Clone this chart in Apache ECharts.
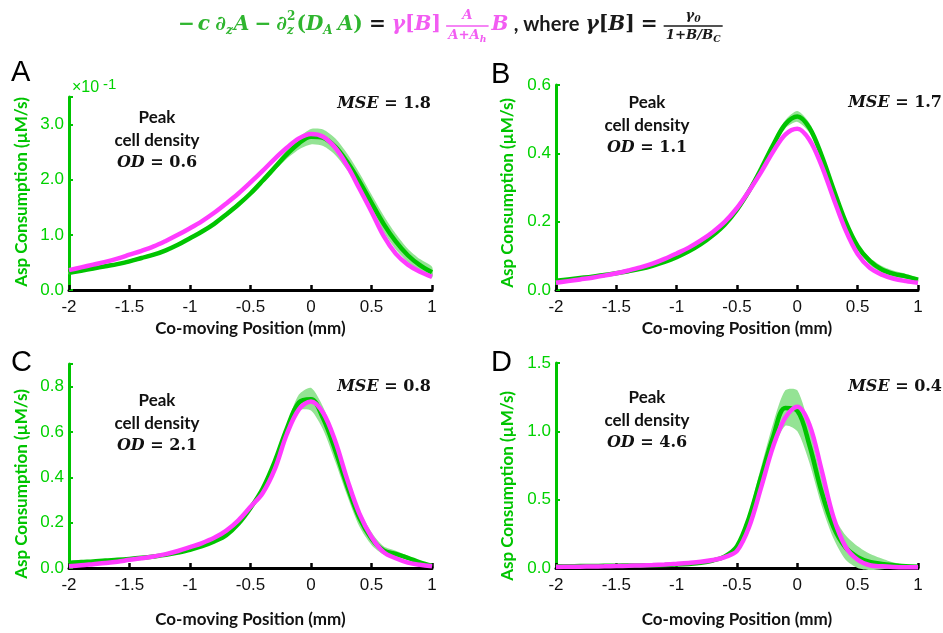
<!DOCTYPE html>
<html><head><meta charset="utf-8">
<script src="https://cdn.jsdelivr.net/npm/echarts/dist/echarts.min.js"></script>
<style>html,body{margin:0;padding:0;background:#fff}#c{width:943px;height:633px}</style>
</head><body><div id="c"></div>
<script>
// ---- data (x in mm, y in µM/s) ----
const positions = [-2.0,-1.9,-1.8,-1.7,-1.6,-1.5,-1.4,-1.3,-1.2,-1.1,-1.0,-0.9,-0.8,-0.7,-0.6,-0.5,-0.4,-0.3,-0.2,-0.1,0.0,0.1,0.2,0.3,0.4,0.5,0.6,0.7,0.8,0.9,1.0];

const dataA = [0.031,0.035,0.039,0.043,0.047,0.052,0.058,0.064,0.072,0.082,0.094,0.106,0.120,0.137,0.155,0.175,0.198,0.222,0.246,0.266,0.278,0.276,0.260,0.232,0.197,0.158,0.120,0.088,0.063,0.045,0.032];
const modelA = [0.036,0.041,0.046,0.051,0.057,0.064,0.071,0.079,0.089,0.100,0.112,0.125,0.140,0.157,0.175,0.195,0.216,0.238,0.258,0.275,0.283,0.278,0.258,0.225,0.184,0.142,0.098,0.066,0.046,0.033,0.024];
const spreadA = [0.003,0.003,0.003,0.003,0.003,0.003,0.003,0.003,0.003,0.003,0.003,0.003,0.003,0.004,0.004,0.004,0.005,0.006,0.008,0.011,0.014,0.015,0.015,0.015,0.015,0.015,0.015,0.014,0.012,0.011,0.010];

const dataB = [0.027,0.031,0.035,0.039,0.044,0.049,0.055,0.062,0.071,0.082,0.096,0.113,0.134,0.160,0.192,0.235,0.290,0.355,0.425,0.485,0.508,0.475,0.395,0.295,0.200,0.128,0.085,0.060,0.047,0.040,0.030];
const modelB = [0.021,0.026,0.031,0.036,0.042,0.049,0.057,0.066,0.077,0.091,0.107,0.124,0.145,0.170,0.200,0.240,0.290,0.345,0.405,0.455,0.472,0.440,0.365,0.268,0.175,0.105,0.065,0.045,0.033,0.026,0.021];
const spreadB = [0.002,0.002,0.002,0.002,0.002,0.002,0.002,0.002,0.002,0.002,0.002,0.003,0.003,0.003,0.003,0.004,0.005,0.006,0.008,0.012,0.016,0.014,0.010,0.008,0.008,0.009,0.010,0.010,0.009,0.007,0.005];

const dataC = [0.022,0.026,0.029,0.033,0.036,0.040,0.045,0.051,0.058,0.068,0.080,0.096,0.117,0.145,0.195,0.265,0.350,0.470,0.615,0.730,0.745,0.660,0.520,0.360,0.220,0.130,0.078,0.062,0.045,0.025,0.010];
const modelC = [0.008,0.012,0.017,0.022,0.028,0.036,0.043,0.051,0.061,0.075,0.092,0.110,0.133,0.165,0.210,0.270,0.330,0.435,0.590,0.700,0.735,0.685,0.560,0.390,0.240,0.137,0.070,0.043,0.024,0.014,0.008];
const spreadC = [0.003,0.003,0.003,0.003,0.003,0.003,0.003,0.003,0.003,0.003,0.004,0.004,0.004,0.005,0.005,0.007,0.010,0.012,0.018,0.035,0.050,0.050,0.050,0.042,0.037,0.028,0.018,0.014,0.009,0.005,0.003];

const dataD = [0.012,0.013,0.014,0.015,0.016,0.017,0.018,0.019,0.020,0.022,0.025,0.030,0.038,0.055,0.085,0.160,0.370,0.670,0.960,1.170,1.150,0.900,0.560,0.300,0.150,0.080,0.045,0.030,0.020,0.012,0.010];
const modelD = [0.008,0.009,0.010,0.011,0.012,0.014,0.016,0.019,0.022,0.026,0.031,0.037,0.045,0.058,0.080,0.125,0.300,0.590,0.890,1.100,1.180,1.050,0.720,0.370,0.155,0.060,0.020,0.012,0.008,0.006,0.005];
const spreadD = [0.003,0.003,0.003,0.003,0.003,0.003,0.003,0.003,0.003,0.003,0.003,0.004,0.004,0.005,0.005,0.020,0.040,0.070,0.100,0.130,0.150,0.130,0.100,0.085,0.090,0.080,0.060,0.040,0.020,0.008,0.005];

const yMax = [0.35, 0.6, 0.9, 1.5];
const yStep = [0.1, 0.2, 0.2, 0.5];
const yScale = [10, 1, 1, 1];
const odValues = ['0.6','1.1','2.1','4.6'];
const mseValues = ['1.8','1.7','0.8','0.4'];
const panelLetters = ['A','B','C','D'];

// ---- style ----
const GREEN = '#00c400';
const LABEL_GREEN = '#00d200';
const BAND = '#94e394';
const MAGENTA = '#ff3cff';
const grids = [
  {left:69, top:97, width:363, height:193},
  {left:556, top:85, width:362, height:205},
  {left:69, top:364, width:363, height:204},
  {left:556, top:363, width:362, height:205}
];
const xNameGap = [30, 30, 43, 43];

const panels = [
  [dataA, modelA, spreadA],
  [dataB, modelB, spreadB],
  [dataC, modelC, spreadC],
  [dataD, modelD, spreadD]
];

const xAxes = [], yAxes = [], series = [];
panels.forEach((p, i) => {
  xAxes.push({
    gridIndex:i, type:'value', min:-2, max:1, interval:0.5,
    name:'Co-moving Position (mm)', nameLocation:'middle', nameGap:xNameGap[i],
    nameTextStyle:{color:'#111', fontFamily:'Lato', fontWeight:'bold', fontSize:17},
    axisLine:{show:true, onZero:false, lineStyle:{color:'#000', width:3}},
    axisTick:{show:true, inside:true, length:5, lineStyle:{color:'#000', width:2.5}},
    axisLabel:{color:'#111', fontFamily:'Liberation Sans', fontSize:17, margin:9,
      formatter:v => String(v)},
    splitLine:{show:false}
  });
  const sc = yScale[i], st = yStep[i];
  yAxes.push({
    gridIndex:i, type:'value', min:0, max:yMax[i], interval:st,
    axisLine:{show:true, onZero:false, lineStyle:{color:GREEN, width:3}},
    axisTick:{show:true, inside:true, length:4, lineStyle:{color:GREEN, width:2}},
    axisLabel:{color:LABEL_GREEN, fontFamily:'Liberation Sans', fontSize:17, margin:5,
      formatter:v => {
        const k = Math.round(v / st);
        if (Math.abs(k*st - v) > 1e-6) return '';
        return (v*sc).toFixed(1);
      }},
    splitLine:{show:false}
  });
  const [mean, model, spread] = p;
  series.push({
    type:'custom', xAxisIndex:i, yAxisIndex:i, silent:true, z:1, data:[[0,0]],
    renderItem:(params, api) => {
      const pts = [];
      positions.forEach((x,j) => pts.push(api.coord([x, mean[j]+spread[j]])));
      for (let j = positions.length-1; j >= 0; j--) pts.push(api.coord([positions[j], mean[j]-spread[j]]));
      return {type:'polygon', shape:{points:pts, smooth:0.25}, style:{fill:BAND}};
    }
  });
  series.push({
    type:'line', xAxisIndex:i, yAxisIndex:i, data:positions.map((x,j)=>[x,mean[j]]),
    symbol:'none', smooth:0.35, lineStyle:{color:GREEN, width:4.5}, z:3
  });
  series.push({
    type:'line', xAxisIndex:i, yAxisIndex:i, data:positions.map((x,j)=>[x,model[j]]),
    symbol:'none', smooth:0.35, lineStyle:{color:MAGENTA, width:4.5}, z:4
  });
});

// ---- text graphics ----
const SERIF = 'DejaVu Serif';
function txt(text, x, y, size, color, o) {
  o = o || {};
  return {type:'text', x:x, y:y, z:10, silent:true, style:{
    text:text, fontSize:size, fontFamily:o.family||SERIF, fontWeight:o.weight||'bold',
    fontStyle:o.style||'italic', fill:color, align:o.align||'left', verticalAlign:o.va||'middle',
    rich:o.rich
  }};
}

// title equation laid out token by token
const TG = '#2fb52f', TM = '#f25cf2', TK = '#1a1a1a';
const titleTokens = [
  ['−','n',TG], 3, ['c','i',TG], 5, ['∂','i',TG], ['z','sub',TG], ['A','i',TG], 5, ['−','n',TG], 5,
  ['∂','i',TG], ['z','subsup',TG,'2'], ['(','n',TG], ['D','i',TG], ['A','sub',TG], 4, ['A','i',TG], [')','n',TG], 6,
  ['=','n',TK], 6,
  ['γ','i',TM], ['[','n',TM], ['B','i',TM], [']','n',TM], 5,
  {num:[['A','i']], den:[['A+A','i'],['h','sub']], c:TM}, 3, ['B','i',TM], 5,
  [', where','s',TK], 6, ['γ','i',TK], ['[','n',TK], ['B','i',TK], [']','n',TK], 6, ['=','n',TK], 6,
  {num:[['γ','i'],['0','sub']], den:[['1+B/B','i'],['C','sub']], c:TK}
];
const measureCtx = document.createElement('canvas').getContext('2d');
function fontOf(kind, S) {
  if (kind === 's') return 'normal bold ' + S + 'px Lato';
  if (kind === 'n') return 'normal bold ' + S + 'px "' + SERIF + '"';
  return 'italic bold ' + S + 'px "' + SERIF + '"';
}
function tokEl(text, kind, x, y, S, color) {
  return txt(text, x, y, S, color, {
    family: kind === 's' ? 'Lato' : SERIF,
    style: (kind === 'n' || kind === 's') ? 'normal' : 'italic'
  });
}
function layoutTitle(S, x0, y0, out) {
  let x = x0;
  const scale = S / 20;
  const sub = S * 0.6, fr = S * 0.66;
  function run(parts, px, py, size) {
    let w = 0;
    parts.forEach(([t,k]) => {
      const sz = k === 'sub' ? size*0.7 : size;
      const dy = k === 'sub' ? size*0.3 : 0;
      const kk = k === 'sub' ? 'i' : k;
      measureCtx.font = fontOf(kk, sz);
      const tw = measureCtx.measureText(t).width;
      if (out) out.push(tokEl(t, kk, px + w, py + dy, sz, parts.color));
      w += tw;
    });
    return w;
  }
  titleTokens.forEach(tok => {
    if (typeof tok === 'number') { x += tok*scale; return; }
    if (!Array.isArray(tok)) {
      const wn = run(tok.num, 0, 0, fr), wd = run(tok.den, 0, 0, fr);
      const W = Math.max(wn, wd) + 4*scale;
      if (out) {
        const numParts = tok.num.slice(); numParts.color = tok.c;
        const denParts = tok.den.slice(); denParts.color = tok.c;
        run(numParts, x + (W-wn)/2, y0 - 0.45*S, fr);
        run(denParts, x + (W-wd)/2, y0 + 0.52*S, fr);
        out.push({type:'line', z:10, silent:true,
          shape:{x1:x, y1:y0+0.05*S, x2:x+W, y2:y0+0.05*S}, style:{stroke:tok.c, lineWidth:1.5}});
      }
      x += W; return;
    }
    const [t,k,c,sup] = tok;
    if (k === 'sub' || k === 'subsup') {
      measureCtx.font = fontOf('i', sub);
      const w1 = measureCtx.measureText(t).width;
      if (out) out.push(tokEl(t, 'i', x, y0 + 0.3*S, sub, c));
      let w2 = 0;
      if (sup) {
        measureCtx.font = fontOf('n', sub);
        w2 = measureCtx.measureText(sup).width;
        if (out) out.push(tokEl(sup, 'n', x, y0 - 0.42*S, sub, c));
      }
      x += Math.max(w1, w2) + 1*scale; return;
    }
    measureCtx.font = fontOf(k, S);
    const w = measureCtx.measureText(t).width;
    if (out) out.push(tokEl(t, k, x, y0, S, c));
    x += w;
  });
  return x - x0;
}
const TITLE_LEFT = 178, TITLE_RIGHT = 723;
const w20 = layoutTitle(20, 0, 0, null);
const titleSize = 20 * (TITLE_RIGHT - TITLE_LEFT) / w20;
const graphics = [];
layoutTitle(titleSize, TITLE_LEFT, 25, graphics);

// multiplier for panel A
graphics.push(txt('×10', 72, 88, 16, LABEL_GREEN, {family:'Liberation Sans', weight:'normal', style:'normal'}));
graphics.push(txt('-1', 103, 85, 15, LABEL_GREEN, {family:'Liberation Sans', weight:'normal', style:'normal'}));

const letterPos = [[11,73],[491,75],[11,363],[491,363]];
const peakPos = [[157,118],[647,103],[157,401],[647,398]];
const msePos = [[431,104],[942,103],[431,387],[942,387]];
const yNamePos = [[22,192],[508,193],[22,484],[508,486]];
const rich = {
  i:{fontFamily:SERIF, fontWeight:'bold', fontStyle:'italic', fontSize:16, fill:'#111'},
  n:{fontFamily:SERIF, fontWeight:'bold', fontStyle:'normal', fontSize:16, fill:'#111'}
};
panelLetters.forEach((L, i) => {
  graphics.push(txt(L, letterPos[i][0], letterPos[i][1], 29, '#000', {family:'Liberation Sans', weight:'normal', style:'normal'}));
  const [px, py] = peakPos[i];
  graphics.push(txt('Peak', px, py, 17, '#111', {family:'Lato', style:'normal', align:'center'}));
  graphics.push(txt('cell density', px, py+23, 17, '#111', {family:'Lato', style:'normal', align:'center'}));
  graphics.push(txt('{i|OD} {n|= ' + odValues[i] + '}', px, py+45, 16, '#111', {align:'center', rich:rich}));
  graphics.push(txt('{i|MSE} {n|= ' + mseValues[i] + '}', msePos[i][0], msePos[i][1], 16, '#111', {align:'right', rich:rich}));
  graphics.push({type:'text', x:yNamePos[i][0], y:yNamePos[i][1], rotation:Math.PI/2, z:10, silent:true,
    style:{text:'Asp Consumption (µM/s)', fontFamily:'Lato', fontWeight:'bold', fontSize:17, fill:GREEN,
      align:'center', verticalAlign:'middle'}});
});

const chart = echarts.init(document.getElementById('c'), null, {renderer:'canvas'});
chart.setOption({
  animation:false,
  backgroundColor:'#fff',
  grid:grids,
  xAxis:xAxes,
  yAxis:yAxes,
  series:series,
  graphic:graphics
});
</script></body></html>
